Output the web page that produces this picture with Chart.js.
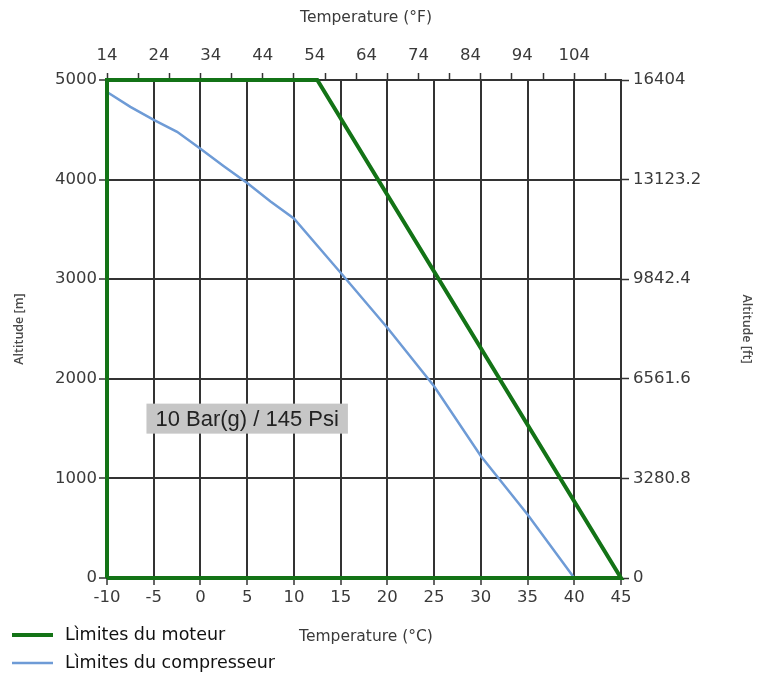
<!DOCTYPE html>
<html>
<head>
<meta charset="utf-8">
<script src="https://cdn.jsdelivr.net/npm/chart.js@4"></script>
<style>
  html, body { margin: 0; padding: 0; background: #ffffff; }
  #wrap { width: 761px; height: 673px; }
</style>
</head>
<body>
<div id="wrap"><canvas id="c" width="761" height="673"></canvas></div>
<script>
// ---- data ----
const engineTempC = [-10, -10, 12.5, 45, -10];
const engineAltM  = [0, 5000, 5000, 0, 0];

const compTempC = [-10, -7.5, -5, -2.5, 0, 2.5, 5, 7.5, 10, 15, 20, 25, 30, 35, 40];
const compAltM  = [4880, 4730, 4600, 4480, 4310, 4135, 3965, 3780, 3610, 3065, 2512, 1925, 1225, 638, 0];

const celsiusTicks   = [-10, -5, 0, 5, 10, 15, 20, 25, 30, 35, 40, 45];
const fahrenheitLabels = [14, 24, 34, 44, 54, 64, 74, 84, 94, 104];
const fahrenheitMarks  = [14, 20, 26, 32, 38, 44, 50, 56, 62, 68, 74, 80, 86, 92, 98, 104, 110];
const altMTicks  = [0, 1000, 2000, 3000, 4000, 5000];
const altFtTicks = [0, 3280.8, 6561.6, 9842.4, 13123.2, 16404];

const seriesNames = ['Lìmites du moteur', 'Lìmites du compresseur'];
const annotationText = '10 Bar(g) / 145 Psi';
const annotationAt = {x: 5, y: 1600};

const titleTop = 'Temperature (°F)';
const titleBottom = 'Temperature (°C)';
const titleLeft = 'Altitude [m]';
const titleRight = 'Altitude [ft]';

const GREEN = '#137316';
const BLUE = '#6e9bd6';
const GRID = '#333333';
const TXT = '#3a3a3a';
const tickFont = {family: 'DejaVu Sans', size: 16.5};

function toXY(xs, ys) { return xs.map((x, i) => ({x: x, y: ys[i]})); }

const overlay = {
  id: 'overlay',
  beforeDatasetsDraw(chart) {
    const ctx = chart.ctx;
    const sx = chart.scales.x, sy = chart.scales.y;
    const cx = sx.getPixelForValue(annotationAt.x);
    const cy = sy.getPixelForValue(annotationAt.y);
    ctx.save();
    ctx.font = '22px "Liberation Sans"';
    const w = ctx.measureText(annotationText).width;
    ctx.fillStyle = '#c6c6c6';
    ctx.fillRect(cx - w / 2 - 9, cy - 15, w + 18, 30);
    ctx.fillStyle = '#222222';
    ctx.textAlign = 'center';
    ctx.textBaseline = 'middle';
    ctx.fillText(annotationText, cx, cy + 1);
    ctx.restore();
  },
  afterDraw(chart) {
    const ctx = chart.ctx;
    const a = chart.chartArea;
    const mid = (a.left + a.right) / 2 + 2;
    ctx.save();
    ctx.fillStyle = TXT;
    ctx.textAlign = 'center';
    ctx.textBaseline = 'middle';
    ctx.font = '15.5px "DejaVu Sans"';
    ctx.fillText(titleTop, mid, 18);
    ctx.fillText(titleBottom, mid, 637);
    ctx.font = '600 12.5px "Open Sans"';
    ctx.fillStyle = '#4a4a4a';
    ctx.save();
    ctx.translate(19, 329);
    ctx.rotate(-Math.PI / 2);
    ctx.fillText(titleLeft, 0, 0);
    ctx.restore();
    ctx.save();
    ctx.translate(747, 329);
    ctx.rotate(Math.PI / 2);
    ctx.fillText(titleRight, 0, 0);
    ctx.restore();
    // legend
    const items = [
      {label: seriesNames[0], color: GREEN, w: 4, y: 635},
      {label: seriesNames[1], color: BLUE, w: 2.5, y: 663}
    ];
    ctx.textAlign = 'left';
    ctx.font = '17.5px "DejaVu Sans"';
    items.forEach(it => {
      ctx.strokeStyle = it.color;
      ctx.lineWidth = it.w;
      ctx.beginPath();
      ctx.moveTo(12, it.y);
      ctx.lineTo(53, it.y);
      ctx.stroke();
      ctx.fillStyle = '#111111';
      ctx.fillText(it.label, 65, it.y);
    });
    ctx.restore();
  }
};

new Chart(document.getElementById('c'), {
  type: 'scatter',
  data: {
    datasets: [
      {
        label: seriesNames[0],
        data: toXY(engineTempC, engineAltM),
        showLine: true,
        borderColor: GREEN,
        backgroundColor: GREEN,
        borderWidth: 4,
        pointRadius: 0,
        tension: 0,
        clip: false,
        xAxisID: 'x', yAxisID: 'y'
      },
      {
        label: seriesNames[1],
        data: toXY(compTempC, compAltM),
        showLine: true,
        borderColor: BLUE,
        backgroundColor: BLUE,
        borderWidth: 2.5,
        pointRadius: 0,
        tension: 0,
        clip: false,
        xAxisID: 'x', yAxisID: 'y'
      }
    ]
  },
  options: {
    responsive: false,
    animation: false,
    devicePixelRatio: 1,
    layout: {padding: 0},
    plugins: {legend: {display: false}, tooltip: {enabled: false}},
    scales: {
      x: {
        type: 'linear', position: 'bottom', min: -10, max: 45,
        afterBuildTicks: s => { s.ticks = celsiusTicks.map(v => ({value: v})); },
        afterFit: s => { s.height = 95; },
        ticks: {font: tickFont, color: TXT, padding: 3, maxRotation: 0, autoSkip: false, callback: v => String(v)},
        grid: {color: GRID, lineWidth: 2, tickLength: 7, tickColor: GRID, tickWidth: 1.5},
        border: {display: true, color: GRID, width: 2}
      },
      x2: {
        type: 'linear', position: 'top', min: 14, max: 113,
        afterBuildTicks: s => {
          const all = Array.from(new Set(fahrenheitLabels.concat(fahrenheitMarks))).sort((a, b) => a - b);
          s.ticks = all.map(v => ({value: v}));
        },
        afterFit: s => { s.height = 80; },
        ticks: {
          font: tickFont, color: TXT, padding: 7, maxRotation: 0, autoSkip: false,
          callback: v => fahrenheitLabels.includes(v) ? String(v) : ''
        },
        grid: {
          drawOnChartArea: false, tickLength: 7, tickWidth: 1.5,
          tickColor: c => (c.tick && fahrenheitMarks.includes(c.tick.value)) ? GRID : 'rgba(0,0,0,0)',
          color: c => (c.tick && fahrenheitMarks.includes(c.tick.value)) ? GRID : 'rgba(0,0,0,0)'
        },
        border: {display: true, color: GRID, width: 2}
      },
      y: {
        type: 'linear', position: 'left', min: 0, max: 5000,
        afterBuildTicks: s => { s.ticks = altMTicks.map(v => ({value: v})); },
        afterFit: s => { s.width = 107; },
        ticks: {font: tickFont, color: TXT, padding: 2, autoSkip: false, callback: v => String(v)},
        grid: {color: GRID, lineWidth: 2, tickLength: 8, tickColor: GRID, tickWidth: 1.5},
        border: {display: true, color: GRID, width: 2}
      },
      y2: {
        type: 'linear', position: 'right', min: 0, max: 16404,
        afterBuildTicks: s => { s.ticks = altFtTicks.map(v => ({value: v})); },
        afterFit: s => { s.width = 140; },
        ticks: {font: tickFont, color: TXT, padding: 4, autoSkip: false, callback: v => String(v)},
        grid: {drawOnChartArea: false, tickLength: 8, tickColor: GRID, tickWidth: 1.5},
        border: {display: true, color: GRID, width: 2}
      }
    }
  },
  plugins: [overlay]
});
</script>
</body>
</html>
